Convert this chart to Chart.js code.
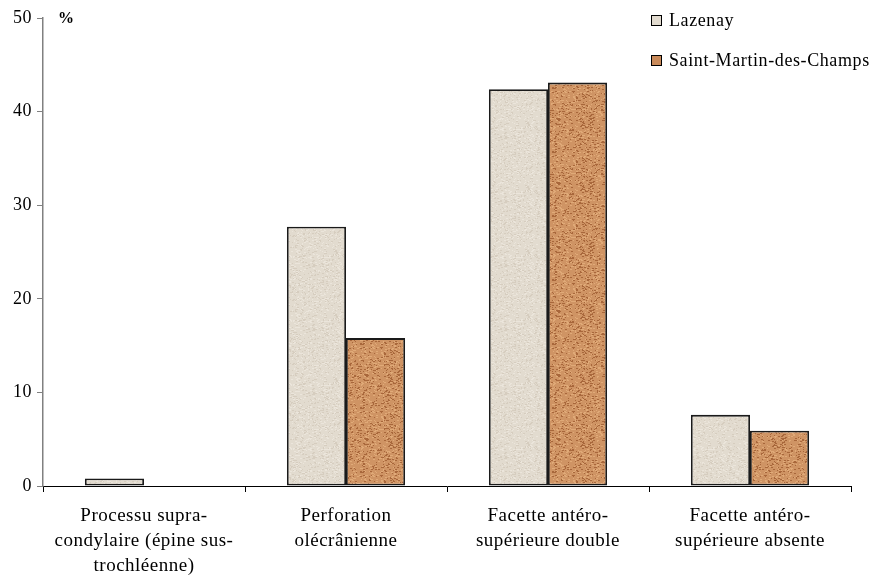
<!DOCTYPE html>
<html><head><meta charset="utf-8">
<script src="https://cdn.jsdelivr.net/npm/chart.js@4"></script>
<style>
html,body{margin:0;padding:0;background:#fff;}
#wrap{position:relative;width:875px;height:575px;}
#legend{position:absolute;left:651px;top:0px;font-family:"Liberation Serif",serif;font-size:18px;color:#000;letter-spacing:0.6px;}
#legend div{display:flex;align-items:center;height:40px;}
#legend span.box{display:inline-block;width:9px;height:9px;border:1px solid #000;margin-right:7px;}
</style></head>
<body>
<div id="wrap"><canvas id="c" width="875" height="575"></canvas>
<div id="legend"></div></div>
<script>
const categories = [
  ["Processu supra-","condylaire (épine sus-","trochléenne)"],
  ["Perforation","olécrânienne"],
  ["Facette antéro-","supérieure double"],
  ["Facette antéro-","supérieure absente"]
];
const seriesNames = ["Lazenay","Saint-Martin-des-Champs"];
const lazenay = [0.8, 27.7, 42.4, 7.6];
const saintMartin = [0, 15.8, 43.1, 5.9];
const yTicks = [0,10,20,30,40,50];

function makePattern(base, dark, light, seed){
  const c = document.createElement('canvas'); c.width = 64; c.height = 64;
  const g = c.getContext('2d');
  g.fillStyle = base; g.fillRect(0,0,64,64);
  let s = seed;
  const rnd = () => { s = (s * 1103515245 + 12345) & 0x7fffffff; return s / 0x7fffffff; };
  for (let i=0;i<900;i++){
    const x = Math.floor(rnd()*64), y = Math.floor(rnd()*64);
    g.fillStyle = rnd() < 0.5 ? dark : light;
    g.fillRect(x,y,1+Math.floor(rnd()*2),1);
  }
  return g.createPattern(c,'repeat');
}
const ctx = document.getElementById('c').getContext('2d');
const patLaz = makePattern('#e2dbcf','#d6cdbf','#ebe5db',7);
const patSMC = makePattern('#cf9464','#a8673b','#e0aa78',13);
const fills = [patLaz, patSMC];
const swatch = ['#e2dbcf','#c98a5a'];

const lg = document.getElementById('legend');
seriesNames.forEach((n,i)=>{
  const d=document.createElement('div');
  d.innerHTML='<span class="box" style="background:'+swatch[i]+'"></span>'+n;
  lg.appendChild(d);
});

const spacing = {
  id:'spacing',
  beforeDraw(chart){ chart.ctx.letterSpacing='0.5px'; }
};
const pctLabel = {
  id:'pctLabel',
  afterDraw(chart){
    const a = chart.chartArea, g = chart.ctx;
    g.save(); g.letterSpacing='0px'; g.font='bold 16px "Liberation Serif"'; g.fillStyle='#000';
    g.textBaseline='middle'; g.fillText('%', a.left+15, a.top+1); g.restore();
  }
};

new Chart(ctx,{
  type:'bar',
  data:{labels:categories,datasets:[
    {label:seriesNames[0],data:lazenay,backgroundColor:fills[0],borderColor:'#1a1a1a',borderWidth:1.8,borderSkipped:false},
    {label:seriesNames[1],data:saintMartin,backgroundColor:fills[1],borderColor:'#1a1a1a',borderWidth:1.8,borderSkipped:false}
  ]},
  options:{
    responsive:false,animation:false,
    layout:{padding:{left:0,right:24,top:18,bottom:0}},
    plugins:{legend:{display:false},tooltip:{enabled:false}},
    datasets:{bar:{categoryPercentage:0.585,barPercentage:1}},
    scales:{
      x:{
        offset:true,
        grid:{offset:true,drawOnChartArea:false,drawTicks:true,tickLength:6,color:'#000'},
        border:{color:'#000',width:1},
        ticks:{color:'#000',font:{family:'Liberation Serif',size:19,lineHeight:1.3},padding:12,maxRotation:0,autoSkip:false},
        afterFit(s){s.height=89;}
      },
      y:{
        min:0,max:50,
        afterBuildTicks(s){s.ticks=yTicks.map(v=>({value:v}));},
        grid:{drawOnChartArea:false,drawTicks:true,tickLength:6,color:'#808080'},
        border:{color:'#808080',width:1.5},
        ticks:{color:'#000',font:{family:'Liberation Serif',size:18},padding:5},
        afterFit(s){s.width=43;}
      }
    }
  },
  plugins:[spacing,pctLabel]
});
</script>
</body></html>
